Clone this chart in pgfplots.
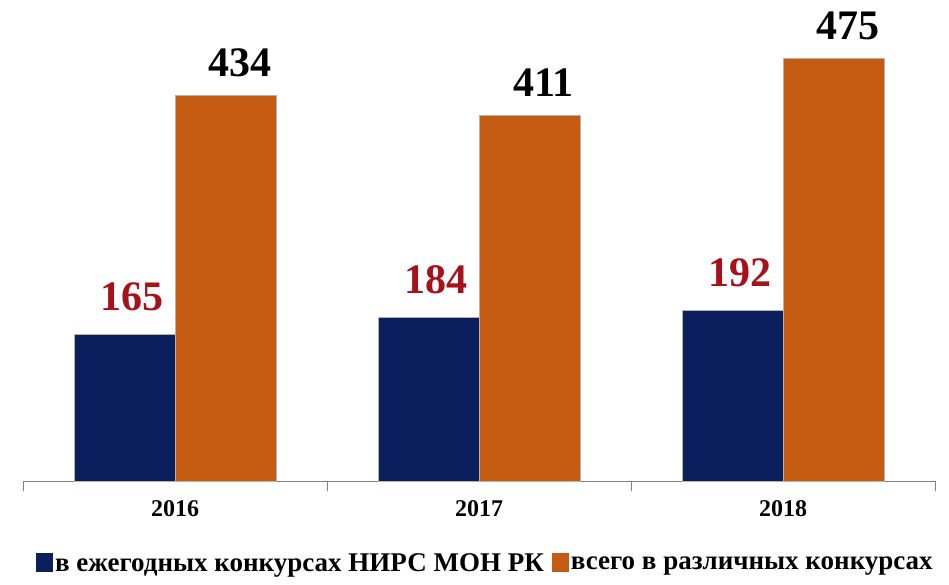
\documentclass[border=0pt]{standalone}
\usepackage{fontspec}
\setmainfont{Liberation Serif}[BoldFont={Liberation Serif Bold}]
\usepackage{pgfplots}
\pgfplotsset{compat=1.18}
\definecolor{navy}{HTML}{0B1F5C}
\definecolor{rust}{HTML}{C55A11}
\definecolor{lblred}{HTML}{A8101A}
\begin{document}
\begin{tikzpicture}
\useasboundingbox (-23pt,-103pt) rectangle (926pt,481pt);
\begin{axis}[
    scale only axis,
    width=912pt, height=481pt,
    ybar=0pt, bar width=101pt,
    xmin=-0.5, xmax=2.5, ymin=0, ymax=541,
    axis y line=none,
    axis x line*=bottom,
    x axis line style={gray, line width=1pt, -},
    xtick={0,1,2},
    xticklabels={2016,2017,2018},
    major tick length=0pt,
    minor xtick={-0.5,0.5,1.5,2.5},
    minor tick length=10pt,
    tick align=outside,
    minor tick style={gray, line width=1pt},
    xticklabel style={font=\bfseries\fontsize{24}{28}\selectfont, yshift=-16pt},
    /pgf/number format/assume math mode=true,
    nodes near coords,
    every node near coord/.append style={font=\bfseries\fontsize{42}{46}\selectfont, anchor=base},
    legend style={at={(0.507,-0.172)}, anchor=center, draw=none, fill=none,
        legend columns=2, font=\bfseries\fontsize{27}{30}\selectfont,
        /tikz/every even column/.append style={column sep=6pt}},
    legend image code/.code={\draw[#1, draw=none] (0cm,-0.28cm) rectangle (0.6cm,0.38cm);},
]
\addplot[fill=navy, draw=gray!60, line width=0.4pt,
    every node near coord/.append style={text=lblred, xshift=7pt, yshift=24pt}]
    coordinates {(0,165) (1,184) (2,192)};
\addplot[fill=rust, draw=gray!60, line width=0.4pt,
    every node near coord/.append style={text=black, xshift=14pt, yshift=19pt}]
    coordinates {(0,434) (1,411) (2,475)};
\legend{в ежегодных конкурсах НИРС МОН РК, всего в различных конкурсах}
\end{axis}
\end{tikzpicture}
\end{document}
